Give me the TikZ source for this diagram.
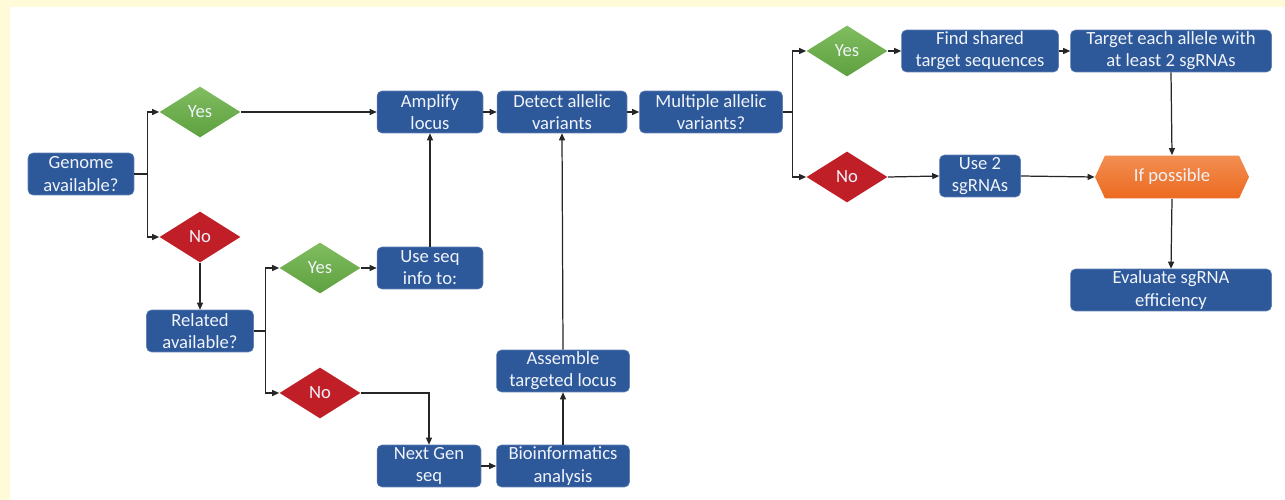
\documentclass[tikz,border=0pt]{standalone}
\usepackage{fontspec}
\setmainfont{Carlito}
\usetikzlibrary{shapes.geometric, shapes.symbols, arrows.meta}

\definecolor{bgyellow}{RGB}{255,251,217}
\definecolor{boxblue}{RGB}{45,88,154}
\definecolor{greentop}{RGB}{128,189,96}
\definecolor{greenbot}{RGB}{94,160,63}
\definecolor{nored}{RGB}{192,31,40}
\definecolor{orangetop}{RGB}{242,142,82}
\definecolor{orangebot}{RGB}{236,106,31}
\definecolor{textwhite}{RGB}{240,244,250}

\begin{document}
\begin{tikzpicture}[x=0.02cm, y=-0.02cm,
    every node/.style={font=\fontsize{10.6}{12.6}\selectfont, text=textwhite, align=center, inner sep=0pt},
    proc/.style={rectangle, rounded corners=2.8pt, fill=boxblue, draw=boxblue!75!white, line width=0.3pt, minimum height=0.84cm},
    yesd/.style={diamond, top color=greentop, bottom color=greenbot, minimum width=1.62cm, minimum height=1.02cm},
    nod/.style={diamond, fill=nored, minimum width=1.62cm, minimum height=1.02cm},
    hexa/.style={signal, signal to=west and east, signal pointer angle=130, top color=orangetop, bottom color=orangebot, minimum width=3.08cm, minimum height=0.86cm},
    arr/.style={-{Triangle[length=4pt, width=3.4pt]}, line width=0.7pt, black!85}]

    % background
    \fill[bgyellow] (0,0) rectangle (1285,500);
    \fill[white] (10,7) rectangle (1285,500);

    % left part
    \node[proc, minimum width=2.12cm] (genome) at (81,174) {Genome\\available?};
    \node[yesd] (yes1) at (200,112) {Yes};
    \node[nod]  (no1)  at (200,237) {No};
    \node[proc, minimum width=2.14cm] (related) at (200,331) {Related\\available?};
    \node[yesd] (yes2) at (320,268) {Yes};
    \node[nod]  (no2)  at (320,393) {No};

    % middle part
    \node[proc, minimum width=2.12cm] (amplify) at (430,112) {Amplify\\locus};
    \node[proc, minimum width=2.12cm] (useseq)  at (430,268) {Use seq\\info to:};
    \node[proc, minimum width=2.08cm] (nextgen) at (429,466) {Next Gen\\seq};
    \node[proc, minimum width=2.6cm]  (detect)  at (562,112) {Detect allelic\\variants};
    \node[proc, minimum width=2.66cm] (assemble) at (563,371) {Assemble\\targeted locus};
    \node[proc, minimum width=2.66cm] (bioinf)  at (563,466) {Bioinformatics\\analysis};
    \node[proc, minimum width=2.86cm] (multiple) at (711,112) {Multiple allelic\\variants?};

    % right part
    \node[yesd] (yes3) at (847,51)  {Yes};
    \node[nod]  (no3)  at (847,177) {No};
    \node[proc, minimum width=3.14cm] (shared) at (980,51)  {Find shared\\target sequences};
    \node[proc, minimum width=1.62cm] (usetwo) at (980,176) {Use 2\\sgRNAs};
    \node[proc, minimum width=4.02cm] (target) at (1171,51) {Target each allele with\\at least 2 sgRNAs};
    \node[hexa] (ifposs) at (1172,177) {If possible};
    \node[proc, minimum width=4.02cm] (evaluate) at (1171,290) {Evaluate sgRNA\\efficiency};

    % connectors
    \draw[arr] (genome.east) -- ++(13,0) |- (yes1.west);
    \draw[arr] (genome.east) -- ++(13,0) |- (no1.west);
    \draw[arr] (yes1.east) -- (amplify.west);
    \draw[arr] (no1.south) -- (related.north);
    \draw[arr] (related.east) -- ++(12,0) |- (yes2.west);
    \draw[arr] (related.east) -- ++(12,0) |- (no2.west);
    \draw[arr] (yes2.east) -- (useseq.west);
    \draw[arr] (useseq.north) -- (amplify.south);
    \draw[arr] (no2.east) -| (nextgen.north);
    \draw[arr] (nextgen.east) -- (bioinf.west);
    \draw[arr] (bioinf.north) -- (assemble.south);
    \draw[arr] (assemble.north) -- (detect.south);
    \draw[arr] (amplify.east) -- (detect.west);
    \draw[arr] (detect.east) -- (multiple.west);
    \draw[arr] (multiple.east) -- ++(10,0) |- (yes3.west);
    \draw[arr] (multiple.east) -- ++(10,0) |- (no3.west);
    \draw[arr] (yes3.east) -- (shared.west);
    \draw[arr] (shared.east) -- (target.west);
    \draw[arr] (no3.east) -- (usetwo.west);
    \draw[arr] (usetwo.east) -- (ifposs.west);
    \draw[arr] (target.south) -- (ifposs.north);
    \draw[arr] (ifposs.south) -- (evaluate.north);
\end{tikzpicture}
\end{document}
